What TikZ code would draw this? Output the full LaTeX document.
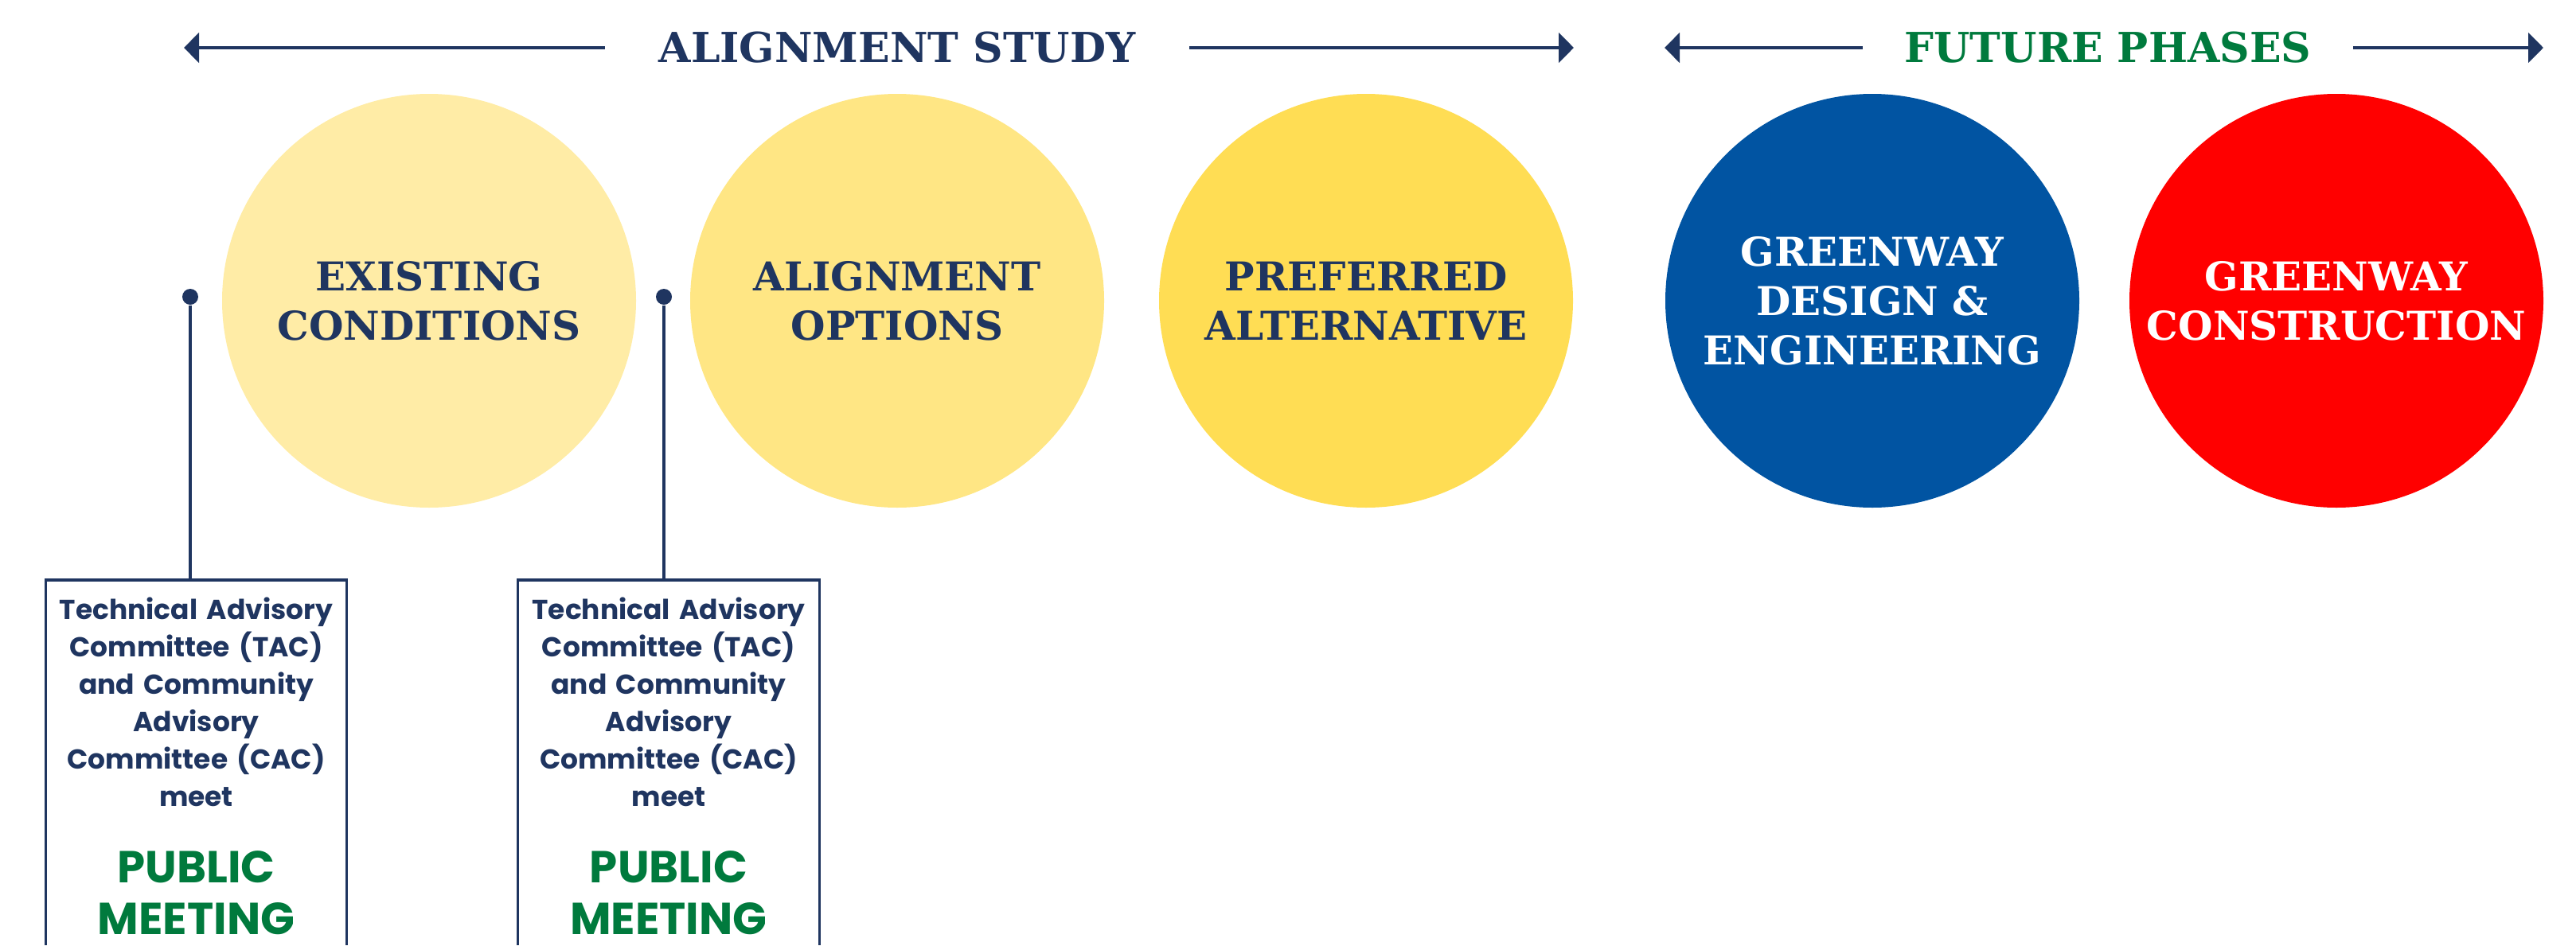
\documentclass[tikz,border=0pt]{standalone}
\usepackage{fontspec}
\usepackage{xcolor}
\usetikzlibrary{arrows.meta}

\newfontfamily\phasefont{DejaVu Serif}
\newfontfamily\meetfont{Poppins}

\definecolor{navy}{RGB}{31,53,96}
\definecolor{meetgreen}{RGB}{0,122,61}
\definecolor{stageone}{RGB}{255,236,166}
\definecolor{stagetwo}{RGB}{255,230,132}
\definecolor{stagethree}{RGB}{255,221,84}
\definecolor{designblue}{RGB}{1,84,162}
\definecolor{buildred}{RGB}{255,0,0}

\begin{document}
\begin{tikzpicture}[
    stage/.style={circle, minimum size=5.2cm, inner sep=0pt, align=center, text=navy,
        font=\phasefont\bfseries\fontsize{14.2}{17.6}\selectfont},
    span/.style={draw=navy, line width=1.4pt, -{Triangle[length=0.19cm,width=0.37cm]}},
    spanlabel/.style={inner xsep=0.67cm, inner ysep=0pt, font=\phasefont\bfseries\fontsize{14.8}{18}\selectfont},
    pin/.style={circle, fill=navy, inner sep=0pt, minimum size=0.2cm},
    pinline/.style={draw=navy, line width=1.3pt},
    meetbox/.style={anchor=north, text width=3.77cm, align=center, inner xsep=0pt, inner ysep=6pt,
        text=navy, font=\meetfont\bfseries\fontsize{9.8}{13.4}\selectfont},
    frame/.style={draw=navy, line width=0.9pt}
]
            \useasboundingbox (0,0) rectangle (32.36,11.88);
            \coordinate (floor) at (0,0);

            % Draw phase headings
            \node[spanlabel, text=navy] (studylbl) at (11.27,11.28) {ALIGNMENT STUDY};
            \coordinate (studyleft) at (2.31,11.28);
            \coordinate (studyright) at (19.77,11.28);
            \draw[span] (studylbl.west) -- (studyleft);
            \draw[span] (studylbl.east) -- (studyright);

            \node[spanlabel, inner xsep=0.52cm, text=meetgreen] (futurelbl) at (26.48,11.28) {FUTURE PHASES};
            \coordinate (futureleft) at (20.91,11.28);
            \coordinate (futureright) at (31.95,11.28);
            \draw[span] (futurelbl.west) -- (futureleft);
            \draw[span] (futurelbl.east) -- (futureright);

            % Draw stages
            \node[stage, fill=stageone] (existing) at (5.39,8.10) {EXISTING\\CONDITIONS};
            \node[stage, fill=stagetwo] (options) at (11.27,8.10) {ALIGNMENT\\OPTIONS};
            \node[stage, fill=stagethree] (preferred) at (17.16,8.10) {PREFERRED\\ALTERNATIVE};
            \node[stage, fill=designblue, text=white] (design) at (23.52,8.10) {GREENWAY\\DESIGN \&\\ENGINEERING};
            \node[stage, fill=buildred, text=white] (build) at (29.35,8.10) {GREENWAY\\CONSTRUCTION};

            % Draw committee meetings
            \node[meetbox] (tacone) at (2.465,4.59) {Technical Advisory\\Committee (TAC)\\and Community\\Advisory\\Committee (CAC)\\meet\par
                \vspace{9pt}{\color{meetgreen}\fontsize{16}{18.3}\selectfont PUBLIC\\MEETING\par}};
            \node[meetbox] (tactwo) at (8.40,4.59) {Technical Advisory\\Committee (TAC)\\and Community\\Advisory\\Committee (CAC)\\meet\par
                \vspace{9pt}{\color{meetgreen}\fontsize{16}{18.3}\selectfont PUBLIC\\MEETING\par}};
            \draw[frame] (tacone.north west |- floor) -- (tacone.north west) -- (tacone.north east) -- (tacone.north east |- floor);
            \draw[frame] (tactwo.north west |- floor) -- (tactwo.north west) -- (tactwo.north east) -- (tactwo.north east |- floor);

            \node[pin] (pinone) at (2.39,8.15) {};
            \node[pin] (pintwo) at (8.34,8.15) {};
            \draw[pinline] (pinone) -- (pinone |- tacone.north);
            \draw[pinline] (pintwo) -- (pintwo |- tactwo.north);
\end{tikzpicture}
\end{document}
